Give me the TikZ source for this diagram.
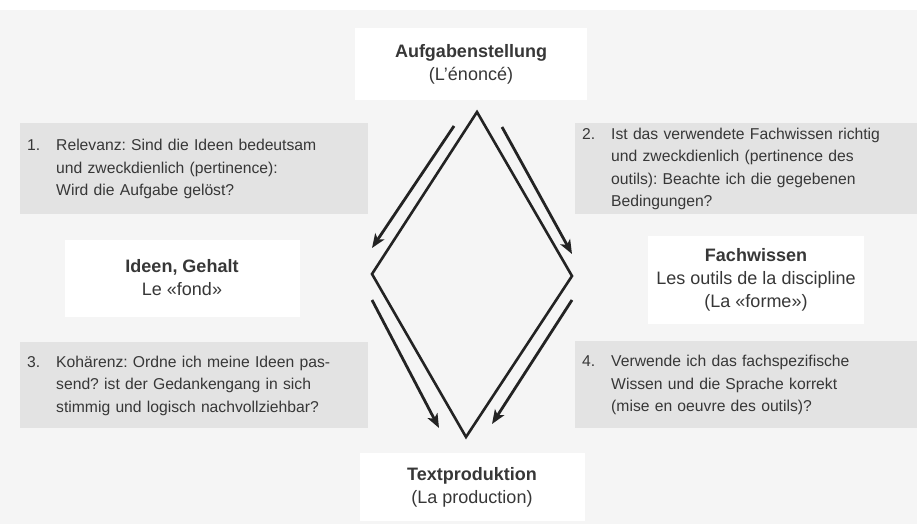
\documentclass[tikz,border=0pt]{standalone}
\usepackage{fontspec}
\setmainfont{Liberation Sans}
\usepackage{tikz}
\usetikzlibrary{arrows.meta,positioning}
\usepackage{xcolor}
\definecolor{ink}{RGB}{35,35,35}
\definecolor{txt}{RGB}{55,55,55}
\definecolor{paper}{RGB}{245,245,245}
\definecolor{shade}{RGB}{227,227,227}
\newcommand{\bodyfont}{\fontsize{15.7}{22.5}\selectfont}
\newcommand{\ttlfont}{\fontsize{18}{23}\selectfont}
\newcommand{\nr}[2]{\begin{tabular}{@{}p{29pt}@{}l@{}}#1&#2\end{tabular}}
\frenchspacing
\tikzset{
  qbox/.style={fill=shade,inner xsep=7pt,inner ysep=0pt,align=left,
    anchor=north west},
  ttl/.style={fill=white,align=center,inner sep=0pt,font=\ttlfont},
  fl/.style={-{Stealth[length=14pt,width=11pt,inset=3.5pt]},line width=2.8pt,
    draw=ink},
}

\begin{document}
\begin{tikzpicture}[x=1pt,y=-1pt,
  every node/.style={text=txt,font=\bodyfont}]
  \useasboundingbox (0,0) rectangle (917,524);
  % paper
  \fill[white] (0,0) rectangle (917,10);
  \fill[paper] (0,10) rectangle (917,524);
  % grey question boxes
  \node[qbox,text width=334pt,minimum height=91pt] (q1) at (20,123)
    {\nr{1.}{Relevanz: Sind die Ideen bedeutsam\\ & und zweckdienlich (pertinence):\\ & Wird die Aufgabe gelöst?}};
  \node[qbox,text width=328pt,minimum height=91pt] (q2) at (575,123)
    {\nr{2.}{Ist das verwendete Fachwissen richtig\\ & und zweckdienlich (pertinence des\\ & outils): Beachte ich die gegebenen\\ & Bedingungen?}};
  \node[qbox,text width=334pt,minimum height=86pt] (q3) at (20,342)
    {\nr{3.}{Kohärenz: Ordne ich meine Ideen pas-\\ & send? ist der Gedankengang in sich\\ & stimmig und logisch nachvollziehbar?}};
  \node[qbox,text width=328pt,minimum height=87pt] (q4) at (575,341)
    {\nr{4.}{Verwende ich das fachspezifische\\ & Wissen und die Sprache korrekt\\ & (mise en oeuvre des outils)?}};
  % white title boxes
  \node[ttl,minimum width=232pt,minimum height=72pt] (task) at (471,64)
    {\textbf{Aufgabenstellung}\\(L'énoncé)};
  \node[ttl,minimum width=235pt,minimum height=77pt] (idea) at (182,278)
    {\textbf{Ideen, Gehalt}\\Le «fond»};
  \node[ttl,minimum width=216pt,minimum height=88pt] (tool) at (756,280)
    {\textbf{Fachwissen}\\Les outils de la discipline\\(La «forme»)};
  \node[ttl,minimum width=225pt,minimum height=68pt] (prod) at (472,487)
    {\textbf{Textproduktion}\\(La production)};
  % diamond
  \coordinate (dT) at (477,112);
  \coordinate (dR) at (572,276);
  \coordinate (dB) at (466,437);
  \coordinate (dL) at (372,274);
  \draw[line width=2.6pt,draw=ink,line join=miter] (dT) -- (dR) -- (dB) -- (dL) -- cycle;
  % arrows beside the edges
  \coordinate (a1) at (454,126); \coordinate (b1) at (372,248);
  \coordinate (a2) at (502,127); \coordinate (b2) at (572,254);
  \coordinate (a3) at (372,300); \coordinate (b3) at (439,428);
  \coordinate (a4) at (572,300); \coordinate (b4) at (492,424);
  \draw[fl] (a1) -- (b1);
  \draw[fl] (a2) -- (b2);
  \draw[fl] (a3) -- (b3);
  \draw[fl] (a4) -- (b4);
\end{tikzpicture}
\end{document}
